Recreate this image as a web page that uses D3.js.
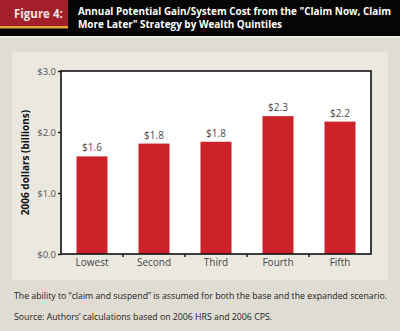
<!DOCTYPE html>
<html>
<head>
<meta charset="utf-8">
<script src="https://cdn.jsdelivr.net/npm/d3@7"></script>
<style>
  html, body { margin: 0; padding: 0; background: #dfdcd3; }
  svg { display: block; }
</style>
</head>
<body>
<svg id="chart" width="400" height="331"></svg>
<script>
// Wealth quintiles and annual gain/system cost (billions of 2006 dollars)
const quintiles = ["Lowest", "Second", "Third", "Fourth", "Fifth"];
const gains = [1.6, 1.81, 1.84, 2.26, 2.17];
const yTicks = [0, 1, 2, 3];

const figureLabel = "Figure 4:";
const titleLines = [
  "Annual Potential Gain/System Cost from the \"Claim Now, Claim",
  "More Later\" Strategy by Wealth Quintiles"
];
const titleWidths = [313, 204];
const notes = [
  "The ability to \u201Cclaim and suspend\u201D is assumed for both the base and the expanded scenario.",
  "Source: Authors\u2019 calculations based on 2006 HRS and 2006 CPS."
];
const noteWidths = [373, 258];

const font = "'Open Sans', 'Noto Sans', sans-serif";
const svg = d3.select("#chart").style("font-family", font);

// Header band
svg.append("rect").attr("x", 0).attr("y", 0).attr("width", 400).attr("height", 36).attr("fill", "#050505");
svg.append("rect").attr("x", 0).attr("y", 36).attr("width", 400).attr("height", 2).attr("fill", "#eeece6");
svg.append("rect").attr("x", 0).attr("y", 0).attr("width", 68).attr("height", 26).attr("fill", "#a3202a");
svg.append("rect").attr("x", 0).attr("y", 26).attr("width", 68).attr("height", 2.5).attr("fill", "#e8a53a");
svg.append("text").attr("x", 14).attr("y", 18)
  .attr("fill", "#f6e4e4").attr("font-size", 11.5).attr("font-weight", 700)
  .text(figureLabel);
svg.append("g").selectAll("text").data(titleLines).join("text")
  .attr("x", 78).attr("y", (d, i) => 15 + i * 13)
  .attr("fill", "#ffffff").attr("font-size", 10).attr("font-weight", 700)
  .attr("textLength", (d, i) => titleWidths[i]).attr("lengthAdjust", "spacingAndGlyphs")
  .text(d => d);

// Chart panel
svg.append("rect").attr("x", 12).attr("y", 52).attr("width", 376).attr("height", 228).attr("fill", "#ebe8e0");

const m = { left: 61, right: 371, top: 71, bottom: 254 };
const x = d3.scaleBand().domain(quintiles).range([m.left, m.right]).paddingInner(0.5).paddingOuter(0.25);
const y = d3.scaleLinear().domain([0, 3]).range([m.bottom, m.top]);

svg.append("rect").attr("x", m.left).attr("y", m.top)
  .attr("width", m.right - m.left).attr("height", m.bottom - m.top).attr("fill", "#ffffff");

// Bars
svg.append("g").selectAll("rect").data(gains).join("rect")
  .attr("x", (d, i) => x(quintiles[i]))
  .attr("y", d => y(d))
  .attr("width", x.bandwidth())
  .attr("height", d => y(0) - y(d))
  .attr("fill", "#cc2229");

// Value labels
const fmt = d => "$" + d3.format(".1f")(d);
svg.append("g").selectAll("text").data(gains).join("text")
  .attr("x", (d, i) => x(quintiles[i]) + x.bandwidth() / 2)
  .attr("y", d => y(d) - 5)
  .attr("text-anchor", "middle").attr("font-size", 10).attr("fill", "#4a4a4a")
  .text(fmt);

// Frame
svg.append("rect").attr("x", m.left).attr("y", m.top)
  .attr("width", m.right - m.left).attr("height", m.bottom - m.top)
  .attr("fill", "none").attr("stroke", "#111").attr("stroke-width", 1.6);

// Y axis
const yAxis = svg.append("g").attr("transform", `translate(${m.left},0)`)
  .call(d3.axisLeft(y).tickValues(yTicks).tickFormat(d => "$" + d3.format(".1f")(d)).tickSize(3).tickPadding(2));
yAxis.select(".domain").remove();
yAxis.selectAll("line").attr("stroke", "#111").attr("stroke-width", 1.4);
yAxis.selectAll("text").attr("font-family", font).attr("font-size", 9.5).attr("fill", "#555");

// X axis: ticks sit between categories
const bounds = quintiles.slice(1).map(q => x(q) - x.step() * x.paddingInner() / 2);
svg.append("g").selectAll("line").data(bounds).join("line")
  .attr("x1", d => d).attr("x2", d => d).attr("y1", m.bottom).attr("y2", m.bottom + 3)
  .attr("stroke", "#111").attr("stroke-width", 1.4);
svg.append("g").selectAll("text").data(quintiles).join("text")
  .attr("x", d => x(d) + x.bandwidth() / 2).attr("y", m.bottom + 12)
  .attr("text-anchor", "middle").attr("font-size", 10).attr("fill", "#444")
  .text(d => d);

// Y axis title
svg.append("text")
  .attr("transform", `translate(29,${(m.top + m.bottom) / 2}) rotate(-90)`)
  .attr("text-anchor", "middle").attr("font-size", 10).attr("font-weight", 700).attr("fill", "#111")
  .text("2006 dollars (billions)");

// Notes
svg.append("g").selectAll("text").data(notes).join("text")
  .attr("x", 14).attr("y", (d, i) => 299 + i * 21)
  .attr("font-size", 9).attr("fill", "#222")
  .attr("textLength", (d, i) => noteWidths[i]).attr("lengthAdjust", "spacingAndGlyphs")
  .text(d => d);
</script>
</body>
</html>
